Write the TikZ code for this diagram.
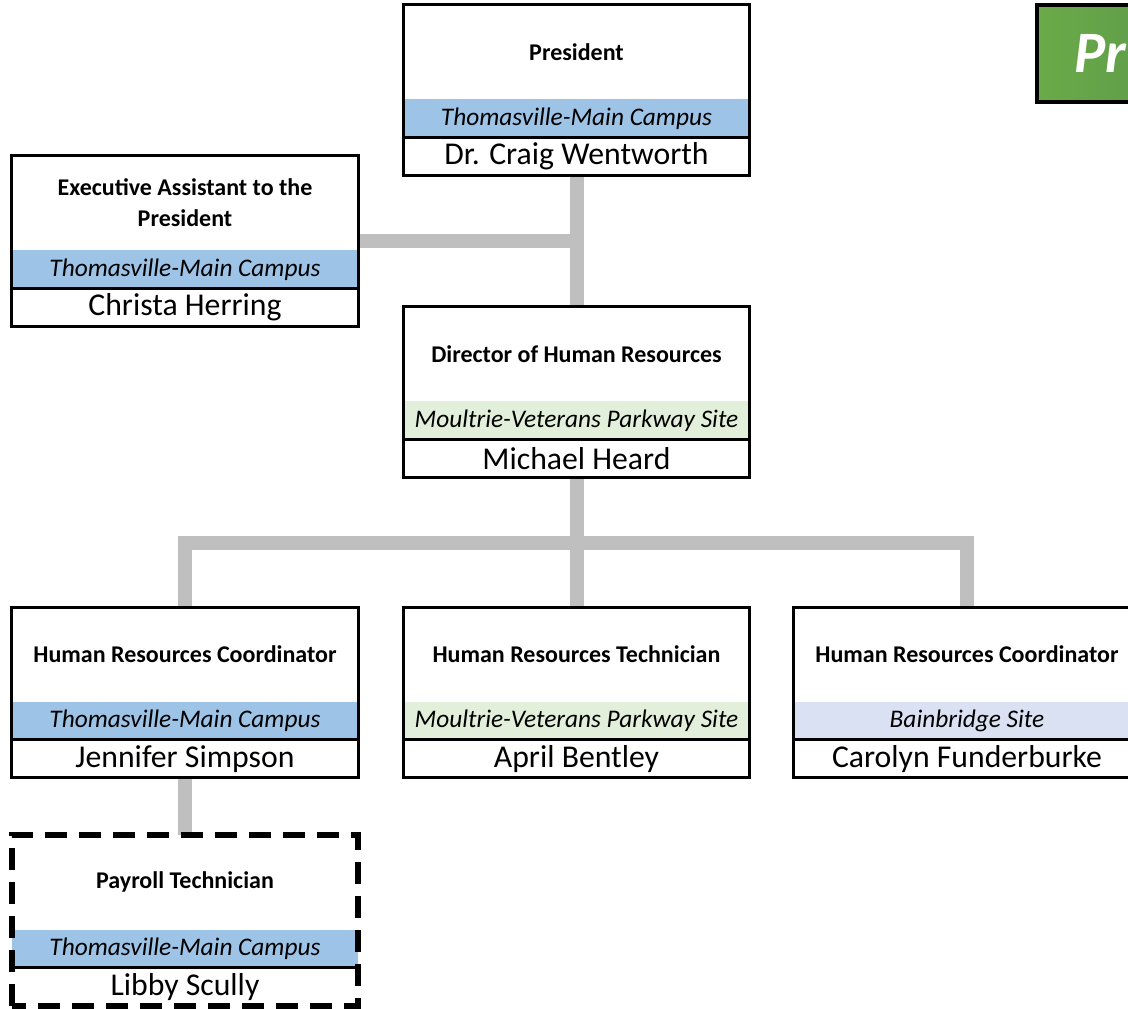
\documentclass[tikz,border=0pt]{standalone}
\usepackage{fontspec}
\setmainfont{Carlito}
\usetikzlibrary{backgrounds}
\definecolor{campusblue}{HTML}{9DC3E6}
\definecolor{moultriegreen}{HTML}{E2EFDA}
\definecolor{bainbridgeblue}{HTML}{D9E1F2}
\definecolor{conngray}{HTML}{BFBFBF}
\definecolor{hdrgreenL}{HTML}{6AAA48}
\definecolor{hdrgreenR}{HTML}{55904C}
\tikzset{
  x=0.75pt, y=-0.75pt,
  unitnode/.style={minimum width=259.5pt, minimum height=127.5pt, inner sep=0pt},
  boxframe/.style={draw=black, line width=2.2pt},
  dashframe/.style={draw=black, line width=4.2pt, dash pattern=on 16.5pt off 9pt},
  sepline/.style={black, line width=2.2pt},
  titletext/.style={font=\fontsize{18}{23}\selectfont\bfseries, align=center},
  sitetext/.style={font=\fontsize{19}{22}\selectfont\itshape},
  nametext/.style={font=\fontsize{23.8}{27}\selectfont},
  conn/.style={conngray, line width=10.5pt},
  hdrbox/.style={draw=black, line width=3pt, left color=hdrgreenL, right color=hdrgreenR,
    anchor=north west, minimum height=72.75pt, inner xsep=28pt, text width=120pt, align=left,
    text=white, font=\fontsize{44}{50}\selectfont\bfseries\itshape},
}
% #1 frame, #2 name, #3/#4 centre, #5 title, #6 band colour, #7 site, #8 person
\newcommand\unitbox[8][boxframe]{%
  \node[unitnode] (#2) at (#3,#4) {};
  \fill[#6] (#2.south west) ++(0,-38) rectangle ++(346,-38);
  \draw[sepline] (#2.south west) ++(0,-38) -- ++(346,0);
  \draw[#1] (#2.south west) rectangle (#2.north east);
  \node[titletext] (#2-title) at ([yshift=-35.25pt]#2.north) {#5};
  \node[sitetext] (#2-site) at ([yshift=42.75pt]#2.south) {#7};
  \node[nametext] (#2-name) at ([yshift=14.25pt]#2.south) {#8};
}
\begin{document}
\begin{tikzpicture}
\useasboundingbox (0,0) rectangle (1128,1008);
\clip (0,0) rectangle (1128,1008);
%header
\node[hdrbox] (hdr) at (1035,3) {Pr};
%boxes
\unitbox{pres}{576.5}{90}{President}{campusblue}{Thomasville-Main Campus}{Dr. Craig Wentworth}
\unitbox{exec}{185}{241}{Executive Assistant to the\\President}{campusblue}{Thomasville-Main Campus}{Christa Herring}
\unitbox{dir}{576.5}{392}{Director of Human Resources}{moultriegreen}{Moultrie-Veterans Parkway Site}{Michael Heard}
\unitbox{hrl}{185}{692.5}{Human Resources Coordinator}{campusblue}{Thomasville-Main Campus}{Jennifer Simpson}
\unitbox{hrt}{576.5}{692.5}{Human Resources Technician}{moultriegreen}{Moultrie-Veterans Parkway Site}{April Bentley}
\unitbox{hrc}{967}{692.5}{Human Resources Coordinator}{bainbridgeblue}{Bainbridge Site}{Carolyn Funderburke}
\unitbox[dashframe]{pay}{185}{920.5}{Payroll Technician}{campusblue}{Thomasville-Main Campus}{Libby Scully}
%connectors
\coordinate (bus) at (576.5,543);
\begin{pgfonlayer}{background}
\draw[conn] (pres.south) -- (dir.north);
\draw[conn] (exec.east) -- (exec.east -| pres.south);
\draw[conn] (dir.south) -- (hrt.north);
\draw[conn] (hrl.north) |- (bus) -| (hrc.north);
\draw[conn] (hrl.south) -- (pay.north);
\end{pgfonlayer}
\end{tikzpicture}
\end{document}
